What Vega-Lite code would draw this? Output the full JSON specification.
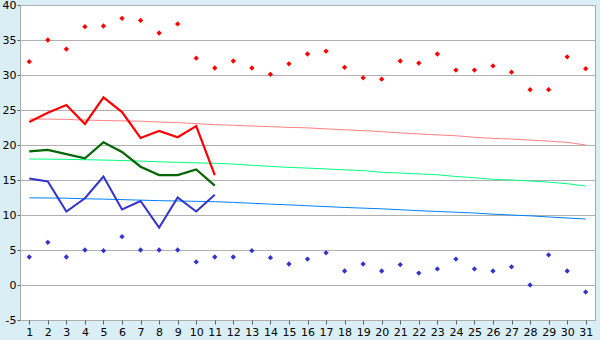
{
  "$schema": "https://vega.github.io/schema/vega-lite/v6.json",
  "width": 575,
  "height": 315,
  "autosize": "none",
  "padding": {"left": 20, "top": 5, "right": 5, "bottom": 20},
  "background": "#daeef5",
  "config": {
    "view": {"fill": "#ffffff", "stroke": "#a8a8a8", "strokeWidth": 1},
    "axis": {"labelFont": "DejaVu Sans", "labelFontSize": 11, "labelColor": "#000000", "tickColor": "#606060", "domainColor": "#a8a8a8", "tickSize": 4, "title": null, "labelOverlap": false}
  },
  "data": {"values": [
    {"day": 1, "max": 31.9, "min": 4.0, "hi": 23.3, "mid": 19.1, "lo": 15.2, "nhi": 23.72, "nmid": 18.0, "nlo": 12.45},
    {"day": 2, "max": 35.0, "min": 6.1, "hi": 24.6, "mid": 19.3, "lo": 14.8, "nhi": 23.7, "nmid": 17.98, "nlo": 12.43},
    {"day": 3, "max": 33.7, "min": 4.0, "hi": 25.7, "mid": 18.7, "lo": 10.5, "nhi": 23.66, "nmid": 17.95, "nlo": 12.4},
    {"day": 4, "max": 36.9, "min": 5.0, "hi": 23.0, "mid": 18.1, "lo": 12.4, "nhi": 23.56, "nmid": 17.9, "nlo": 12.32},
    {"day": 5, "max": 37.0, "min": 4.9, "hi": 26.8, "mid": 20.4, "lo": 15.5, "nhi": 23.5, "nmid": 17.85, "nlo": 12.27},
    {"day": 6, "max": 38.1, "min": 6.9, "hi": 24.7, "mid": 19.0, "lo": 10.8, "nhi": 23.45, "nmid": 17.78, "nlo": 12.2},
    {"day": 7, "max": 37.8, "min": 5.0, "hi": 21.0, "mid": 16.9, "lo": 12.0, "nhi": 23.4, "nmid": 17.7, "nlo": 12.12},
    {"day": 8, "max": 36.0, "min": 5.0, "hi": 22.0, "mid": 15.7, "lo": 8.2, "nhi": 23.28, "nmid": 17.6, "nlo": 12.05},
    {"day": 9, "max": 37.3, "min": 5.0, "hi": 21.1, "mid": 15.7, "lo": 12.5, "nhi": 23.2, "nmid": 17.52, "nlo": 12.0},
    {"day": 10, "max": 32.4, "min": 3.3, "hi": 22.7, "mid": 16.5, "lo": 10.5, "nhi": 23.06, "nmid": 17.45, "nlo": 11.95},
    {"day": 11, "max": 31.0, "min": 4.0, "hi": 15.7, "mid": 14.2, "lo": 12.9, "nhi": 22.9, "nmid": 17.38, "nlo": 11.9},
    {"day": 12, "max": 32.0, "min": 4.0, "nhi": 22.82, "nmid": 17.28, "nlo": 11.8},
    {"day": 13, "max": 31.0, "min": 4.9, "nhi": 22.72, "nmid": 17.1, "nlo": 11.68},
    {"day": 14, "max": 30.1, "min": 3.9, "nhi": 22.62, "nmid": 16.95, "nlo": 11.55},
    {"day": 15, "max": 31.6, "min": 3.0, "nhi": 22.52, "nmid": 16.8, "nlo": 11.45},
    {"day": 16, "max": 33.0, "min": 3.7, "nhi": 22.45, "nmid": 16.7, "nlo": 11.32},
    {"day": 17, "max": 33.4, "min": 4.6, "nhi": 22.3, "nmid": 16.58, "nlo": 11.2},
    {"day": 18, "max": 31.1, "min": 2.0, "nhi": 22.18, "nmid": 16.45, "nlo": 11.08},
    {"day": 19, "max": 29.6, "min": 3.0, "nhi": 22.05, "nmid": 16.35, "nlo": 10.98},
    {"day": 20, "max": 29.4, "min": 2.0, "nhi": 21.9, "nmid": 16.1, "nlo": 10.88},
    {"day": 21, "max": 32.0, "min": 2.9, "nhi": 21.72, "nmid": 16.0, "nlo": 10.75},
    {"day": 22, "max": 31.7, "min": 1.7, "nhi": 21.58, "nmid": 15.87, "nlo": 10.62},
    {"day": 23, "max": 33.0, "min": 2.3, "nhi": 21.45, "nmid": 15.75, "nlo": 10.5},
    {"day": 24, "max": 30.7, "min": 3.7, "nhi": 21.32, "nmid": 15.5, "nlo": 10.4},
    {"day": 25, "max": 30.7, "min": 2.3, "nhi": 21.1, "nmid": 15.33, "nlo": 10.28},
    {"day": 26, "max": 31.3, "min": 2.0, "nhi": 20.95, "nmid": 15.1, "nlo": 10.12},
    {"day": 27, "max": 30.4, "min": 2.6, "nhi": 20.85, "nmid": 15.0, "nlo": 10.0},
    {"day": 28, "max": 27.9, "min": 0.0, "nhi": 20.7, "nmid": 14.86, "nlo": 9.88},
    {"day": 29, "max": 27.9, "min": 4.3, "nhi": 20.55, "nmid": 14.7, "nlo": 9.72},
    {"day": 30, "max": 32.6, "min": 2.0, "nhi": 20.38, "nmid": 14.47, "nlo": 9.57},
    {"day": 31, "max": 30.9, "min": -1.0, "nhi": 20.0, "nmid": 14.14, "nlo": 9.43}
  ]},
  "encoding": {
    "x": {"field": "day", "type": "ordinal", "scale": {"type": "point", "padding": 0.5},
      "axis": {"labelAngle": 0, "domain": false, "labelPadding": 2}}
  },
  "layer": [
    {"mark": {"type": "line", "color": "#ff8080", "strokeWidth": 1},
     "encoding": {"y": {"field": "nhi", "type": "quantitative",
       "scale": {"domain": [-5, 40], "nice": false, "zero": false},
       "axis": {"values": [-5, 0, 5, 10, 15, 20, 25, 30, 35, 40], "tickCount": 20, "grid": true, "gridColor": "#b0b0b0", "domain": true, "labelPadding": 1, "tickSize": 3,
         "labelExpr": "replace(datum.label, '\u2212', '-')", "labelBound": false}}}},
    {"mark": {"type": "line", "color": "#00ff80", "strokeWidth": 1},
     "encoding": {"y": {"field": "nmid", "type": "quantitative"}}},
    {"mark": {"type": "line", "color": "#0080ff", "strokeWidth": 1},
     "encoding": {"y": {"field": "nlo", "type": "quantitative"}}},
    {"mark": {"type": "line", "color": "#ff0000", "strokeWidth": 2.2},
     "encoding": {"y": {"field": "hi", "type": "quantitative"}}},
    {"mark": {"type": "line", "color": "#006600", "strokeWidth": 2.2},
     "encoding": {"y": {"field": "mid", "type": "quantitative"}}},
    {"mark": {"type": "line", "color": "#3333cc", "strokeWidth": 2},
     "encoding": {"y": {"field": "lo", "type": "quantitative"}}},
    {"mark": {"type": "point", "shape": "diamond", "filled": true, "color": "#ff0000", "size": 28, "opacity": 1},
     "encoding": {"y": {"field": "max", "type": "quantitative"}}},
    {"mark": {"type": "point", "shape": "diamond", "filled": true, "color": "#3333cc", "size": 28, "opacity": 1},
     "encoding": {"y": {"field": "min", "type": "quantitative"}}}
  ]
}
